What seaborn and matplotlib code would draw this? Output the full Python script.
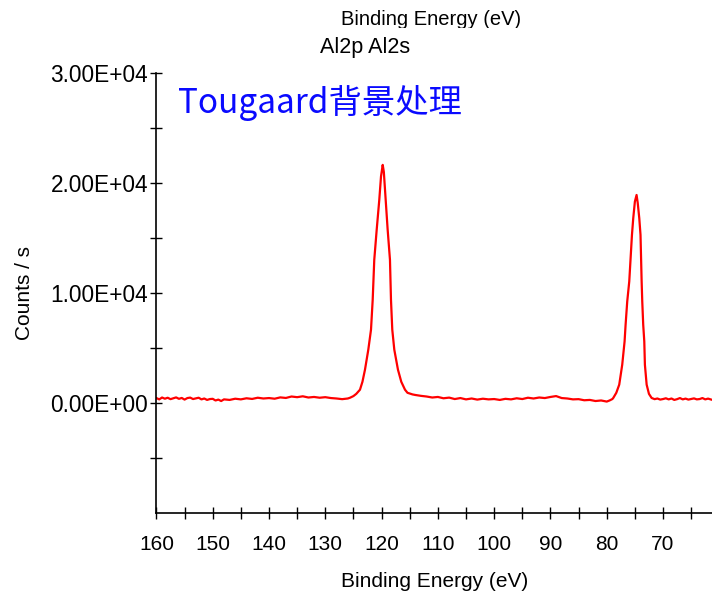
import numpy as np
import pandas as pd
import matplotlib
matplotlib.use("Agg")
import matplotlib.pyplot as plt
import matplotlib.ticker as mticker
from matplotlib.patches import Rectangle
import seaborn as sns

# binding energy (eV) and counts/s, in pieces
base_hi_e = [160, 159.5, 159, 158.5, 158, 157.5, 157, 156.5, 156, 155.5, 155, 154.5,
             154, 153.5, 153, 152.5, 152, 151.5, 151, 150.5, 150, 149.5, 149, 148.5,
             148, 147, 146, 145, 144, 143, 142, 141, 140, 139, 138, 137, 136, 135,
             134, 133, 132, 131, 130, 129, 128, 127, 126]
base_hi_c = [420, 300, 470, 360, 450, 320, 400, 480, 350, 430, 280, 420,
             460, 330, 390, 450, 300, 380, 250, 330, 350, 200, 280, 150,
             300, 250, 360, 300, 400, 340, 450, 380, 420, 360, 480, 430, 560, 500,
             580, 470, 520, 450, 500, 420, 380, 320, 380]

al2s_e = [125.6, 125.0, 124.5, 123.84, 123.4, 122.95, 122.36, 121.88, 121.58, 121.30,
          120.87, 120.41, 120.1, 119.8, 119.6, 119.27, 118.92, 118.51, 118.33, 118.10,
          117.74, 117.09, 116.5, 115.84, 115.4, 114.5]
al2s_c = [450, 600, 800, 1180, 1900, 3000, 4820, 6640, 9360, 13000,
          15730, 18450, 20600, 21640, 21000, 18450, 15730, 13000, 9360, 6640,
          4820, 3000, 1900, 1180, 900, 750]

base_mid_e = [114, 113, 112, 111, 110, 109, 108, 107, 106, 105,
              104, 103, 102, 101, 100, 99, 98, 97, 96, 95,
              94, 93, 92, 91, 90, 89, 88, 87, 86, 85,
              84, 83, 82, 81, 80]
base_mid_c = [700, 620, 560, 470, 520, 400, 460, 330, 420, 300,
              380, 280, 360, 300, 330, 250, 350, 300, 400, 330,
              450, 380, 470, 420, 520, 600, 420, 380, 300, 320,
              220, 250, 150, 200, 100]

al2p_e = [79.5, 79, 78.84, 78.3, 77.78, 77.25, 76.83, 76.65, 76.36, 76.0,
          75.52, 75.29, 75.0, 74.7, 74.5, 74.22, 74.0, 73.8, 73.69, 73.52,
          73.33, 73.22, 72.91, 72.5, 72.03, 71.5]
al2p_c = [200, 330, 430, 900, 1640, 3450, 5570, 7090, 9210, 11030,
          15270, 16790, 18300, 18900, 18200, 16790, 15270, 11030, 9210, 7090,
          5570, 3450, 1640, 800, 430, 320]

base_lo_e = [71, 70.5, 70, 69.5, 69, 68.5, 68, 67.5, 67, 66.5,
             66, 65.5, 65, 64.5, 64, 63.5, 63, 62.5, 62, 61.3]
base_lo_c = [380, 280, 330, 400, 300, 380, 250, 320, 420, 300,
             370, 280, 340, 390, 300, 330, 420, 300, 370, 260]

x_major = [160, 150, 140, 130, 120, 110, 100, 90, 80, 70]
x_minor = [155, 145, 135, 125, 115, 105, 95, 85, 75, 65]
y_major = [0, 10000, 20000, 30000]
y_minor = [-5000, 5000, 15000, 25000]

df = pd.DataFrame({
    "energy": base_hi_e + al2s_e + base_mid_e + al2p_e + base_lo_e,
    "counts": base_hi_c + al2s_c + base_mid_c + al2p_c + base_lo_c,
})

sns.set_style("ticks")
plt.rcParams["font.family"] = ["Liberation Sans", "DejaVu Sans"]
plt.rcParams["text.color"] = "black"
plt.rcParams["axes.labelcolor"] = "black"

fig = plt.figure(figsize=(7.12, 5.96), dpi=100)
ax = fig.add_axes([0.2197, 0.140, 0.7803, 0.7375])

sns.lineplot(data=df, x="energy", y="counts", sort=False, estimator=None,
             color="#ff0000", linewidth=1.6, ax=ax)

ax.set_xlim(160, 61.3)
ax.set_ylim(-10000, 30000)
ax.xaxis.set_major_locator(mticker.FixedLocator(x_major))
ax.xaxis.set_minor_locator(mticker.FixedLocator(x_minor))
ax.yaxis.set_major_locator(mticker.FixedLocator(y_major))
ax.yaxis.set_minor_locator(mticker.FixedLocator(y_minor))
ax.yaxis.set_major_formatter(mticker.FuncFormatter(lambda v, p: "%.2E" % v))

ax.tick_params(axis="both", which="both", direction="inout", length=8, width=1.0,
               color="black", labelcolor="black")
ax.tick_params(axis="x", which="major", pad=12, labelsize=15)
ax.tick_params(axis="y", which="major", pad=2, labelsize=16.3)

for side in ["top", "right"]:
    ax.spines[side].set_visible(False)
for side in ["left", "bottom"]:
    ax.spines[side].set_color("black")
    ax.spines[side].set_linewidth(1.2)

ax.set_xlabel("Binding Energy (eV)", fontsize=15, labelpad=13, color="black")
ax.set_ylabel("Counts / s", fontsize=15, labelpad=12, color="black")

ax.text(0.039, 0.909, "Tougaard背景处理", transform=ax.transAxes,
        family=["Noto Sans CJK SC", "DejaVu Sans"], fontsize=24, color="#0a0aff",
        ha="left", va="baseline")

fig.text(431 / 712, 1 - 25 / 596, "Binding Energy (eV)", fontsize=14.5,
         ha="center", va="baseline", color="black")
fig.text(365 / 712, 1 - 53 / 596, "Al2p Al2s", fontsize=15.5,
         ha="center", va="baseline", color="black")
# the upper title is cut just below its baseline in the reference
fig.patches.append(Rectangle((300 / 712, 1 - 35 / 596), 260 / 712, 6.5 / 596,
                             transform=fig.transFigure, facecolor="white",
                             edgecolor="none", zorder=5))

fig.savefig("out.png", dpi=100)
